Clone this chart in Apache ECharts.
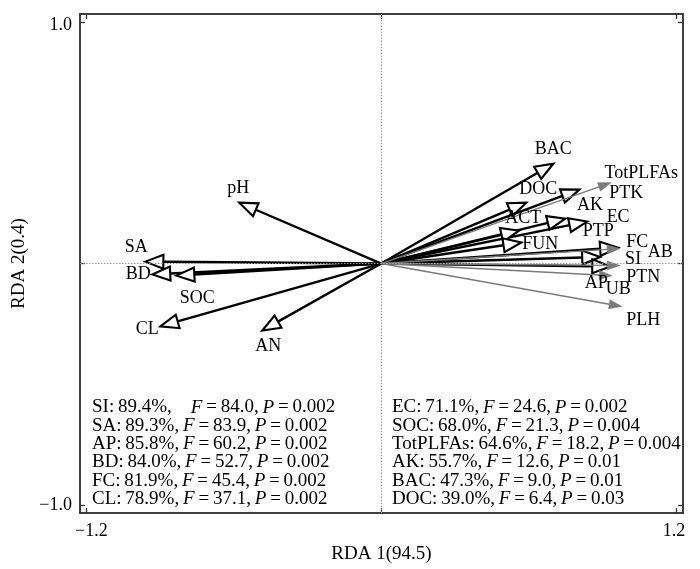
<!DOCTYPE html>
<html>
<head>
<meta charset="utf-8">
<script src="https://cdn.jsdelivr.net/npm/echarts@6/dist/echarts.min.js"></script>
<style>
html,body{margin:0;padding:0;background:#fff;}
#main{width:700px;height:569px;}
</style>
</head>
<body>
<div id="main"></div>
<script>
// Explanatory variables (black arrows): tip coordinates on RDA1 / RDA2
const explNames = ['pH','SA','BD','SOC','CL','AN','BAC','DOC','AK','TotPLFAs','EC','ACT','FUN','FC','AP','SI'];
const explX = [-0.578,-0.960,-0.932,-0.834,-0.899,-0.484,0.700,0.590,0.806,0.749,0.838,0.561,0.570,0.964,0.891,0.932];
const explY = [0.252,0.008,-0.045,-0.050,-0.260,-0.277,0.413,0.252,0.306,0.186,0.174,0.136,0.087,0.066,0.027,-0.012];

// Response variables (grey arrows)
const respNames = ['PTK','AB','PTN','UB','PLH'];
const respX = [0.936,0.972,0.972,0.940,0.980];
const respY = [0.335,0.062,-0.008,-0.050,-0.178];

// Variable label anchors (data units)
const labelNames = ['pH','SA','BD','SOC','CL','AN','BAC','TotPLFAs','DOC','PTK','AK','EC','ACT','PTP','FUN','FC','AB','SI','PTN','AP','UB','PLH'];
const labelX = [-0.582,-0.997,-0.989,-0.749,-0.952,-0.460,0.700,1.058,0.639,0.997,0.850,0.964,0.578,0.883,0.647,1.042,1.135,1.025,1.066,0.875,0.964,1.066];
const labelY = [0.310,0.066,-0.045,-0.145,-0.273,-0.343,0.475,0.372,0.306,0.293,0.240,0.190,0.186,0.132,0.079,0.087,0.045,0.017,-0.058,-0.083,-0.107,-0.236];

// Conditional effects table
const statLeftNames = ['SI','SA','AP','BD','FC','CL'];
const statLeftPct = ['89.4','89.3','85.8','84.0','81.9','78.9'];
const statLeftF = ['84.0','83.9','60.2','52.7','45.4','37.1'];
const statLeftP = ['0.002','0.002','0.002','0.002','0.002','0.002'];
const statRightNames = ['EC','SOC','TotPLFAs','AK','BAC','DOC'];
const statRightPct = ['71.1','68.0','64.6','55.7','47.3','39.0'];
const statRightF = ['24.6','21.3','18.2','12.6','9.0','6.4'];
const statRightP = ['0.002','0.004','0.004','0.01','0.01','0.03'];

// Axis ticks
const xTicks = [-1.2, 0, 1.2];
const xTickLabels = [-1.2, 1.2];
const yTicks = [-1, 0, 1];
const yTickLabels = [-1, 1];

const FONT = '"Liberation Serif","DejaVu Serif",serif';

function fmtNum(v, d) {
  return (v < 0 ? '\u2212' : '') + Math.abs(v).toFixed(d);
}

function arrowRender(headLen, headHalf, black) {
  return function (params, api) {
    const o = api.coord([0, 0]);
    const t = api.coord([api.value(0), api.value(1)]);
    const dx = t[0] - o[0], dy = t[1] - o[1];
    const L = Math.sqrt(dx * dx + dy * dy);
    const ux = dx / L, uy = dy / L;
    const bx = t[0] - ux * headLen, by = t[1] - uy * headLen;
    const px = -uy, py = ux;
    const pts = [[t[0], t[1]], [bx + px * headHalf, by + py * headHalf], [bx - px * headHalf, by - py * headHalf]];
    return {
      type: 'group',
      children: [
        { type: 'line', shape: { x1: o[0], y1: o[1], x2: bx, y2: by },
          style: { stroke: black ? '#000' : '#7a7a7a', lineWidth: black ? 2.4 : 1.4 } },
        { type: 'polygon', shape: { points: pts },
          style: black ? { fill: '#fff', stroke: '#000', lineWidth: 2.1, lineJoin: 'miter' }
                       : { fill: '#7a7a7a', stroke: '#7a7a7a', lineWidth: 0.5 } }
      ]
    };
  };
}

const chart = echarts.init(document.getElementById('main'));

const axisCommon = {
  type: 'value',
  splitLine: { show: false },
  axisLine: { show: true, onZero: false, lineStyle: { color: '#333', width: 1.5 } },
  axisTick: { show: true, inside: true, length: 5, lineStyle: { color: '#333', width: 1.3 } }
};

const EQ = '\u2009=\u2009';
const graphics = [];
function pushStat(names, pct, F, P, left, i, first) {
  graphics.push({
    type: 'text', left: left, top: 398 + i * 18.3, silent: true,
    style: {
      text: names[i] + ':\u2009' + pct[i] + '%,' + (first && i === 0 ? '\u2003' : '\u2009') +
            '{i|F}' + EQ + F[i] + ',\u2009{i|P}' + EQ + P[i],
      font: '19px ' + FONT, fill: '#000',
      rich: { i: { fontStyle: 'italic', fontFamily: FONT, fontSize: 19, fill: '#000' } }
    }
  });
}
for (let i = 0; i < statLeftNames.length; i++) pushStat(statLeftNames, statLeftPct, statLeftF, statLeftP, 92, i, true);
for (let i = 0; i < statRightNames.length; i++) pushStat(statRightNames, statRightPct, statRightF, statRightP, 392, i, false);

chart.setOption({
  animation: false,
  backgroundColor: '#fff',
  grid: { left: 80, right: 17, top: 14, bottom: 55, show: true, borderColor: '#333', borderWidth: 1.5 },
  xAxis: [
    Object.assign({}, axisCommon, {
      position: 'bottom', min: -1.226, max: 1.228,
      axisTick: Object.assign({}, axisCommon.axisTick, { customValues: xTicks }),
      axisLabel: {
        customValues: xTickLabels, margin: 9,
        fontFamily: FONT, fontSize: 18, color: '#000',
        formatter: v => v < 0 ? '{l|' + fmtNum(v, 1) + '}' : '{r|' + fmtNum(v, 1) + '}',
        rich: {
          l: { fontFamily: FONT, fontSize: 18, color: '#000', padding: [0, 0, 0, 10] },
          r: { fontFamily: FONT, fontSize: 18, color: '#000', padding: [0, 4, 0, 0] }
        }
      },
      name: 'RDA 1(94.5)', nameLocation: 'middle', nameGap: 30,
      nameTextStyle: { fontFamily: FONT, fontSize: 19, color: '#000' }
    }),
    Object.assign({}, axisCommon, {
      position: 'top', min: -1.226, max: 1.228,
      axisTick: Object.assign({}, axisCommon.axisTick, { customValues: xTicks }),
      axisLabel: { show: false }
    })
  ],
  yAxis: [
    Object.assign({}, axisCommon, {
      position: 'left', min: -1.033, max: 1.033,
      axisTick: Object.assign({}, axisCommon.axisTick, { customValues: yTicks }),
      axisLabel: {
        customValues: yTickLabels, margin: 8,
        fontFamily: FONT, fontSize: 18, color: '#000',
        formatter: v => v > 0 ? '{t|' + fmtNum(v, 1) + '}' : '{b|' + fmtNum(v, 1) + '}',
        rich: {
          t: { fontFamily: FONT, fontSize: 18, color: '#000', padding: [6, 0, 0, 0] },
          b: { fontFamily: FONT, fontSize: 18, color: '#000', padding: [0, 0, 0, 0] }
        }
      },
      name: 'RDA 2(0.4)', nameLocation: 'middle', nameGap: 46,
      nameTextStyle: { fontFamily: FONT, fontSize: 19, color: '#000' }
    }),
    Object.assign({}, axisCommon, {
      position: 'right', min: -1.033, max: 1.033,
      axisTick: Object.assign({}, axisCommon.axisTick, { customValues: yTicks }),
      axisLabel: { show: false }
    })
  ],
  graphic: graphics,
  series: [
    {
      type: 'custom', name: 'zero', xAxisIndex: 0, yAxisIndex: 0,
      data: [], renderItem: () => null,
      markLine: {
        silent: true, symbol: 'none', animation: false,
        label: { show: false },
        lineStyle: { type: [1.5, 1.5], color: '#9a9a9a', width: 1 },
        data: [{ xAxis: 0 }, { yAxis: 0 }]
      }
    },
    {
      type: 'custom', name: 'explanatory', xAxisIndex: 0, yAxisIndex: 0, silent: true,
      data: explNames.map((n, i) => [explX[i], explY[i], n]),
      renderItem: arrowRender(18, 7, true), z: 3
    },
    {
      type: 'custom', name: 'response', xAxisIndex: 0, yAxisIndex: 0, silent: true,
      data: respNames.map((n, i) => [respX[i], respY[i], n]),
      renderItem: arrowRender(13, 4.5, false), z: 4
    },
    {
      type: 'custom', name: 'labels', xAxisIndex: 0, yAxisIndex: 0, silent: true,
      data: labelNames.map((n, i) => [labelX[i], labelY[i], n]),
      renderItem: function (params, api) {
        const p = api.coord([api.value(0), api.value(1)]);
        return {
          type: 'text', x: p[0], y: p[1],
          style: { text: labelNames[params.dataIndex], font: '18px ' + FONT, fill: '#000',
                   align: 'center', verticalAlign: 'middle' }
        };
      }, z: 5
    }
  ]
});
</script>
</body>
</html>
